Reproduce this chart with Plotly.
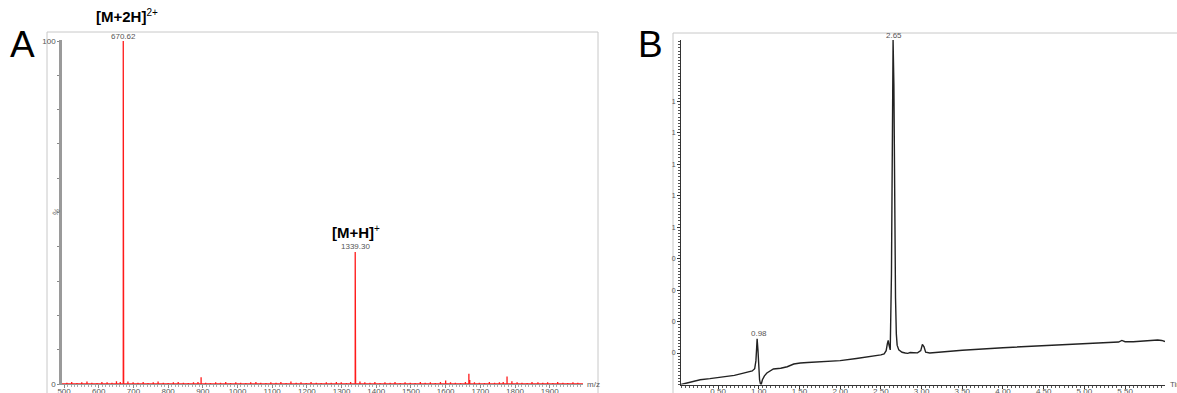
import plotly.graph_objects as go

W, H = 1177, 393

# ---------------- Panel A: mass spectrum ----------------
peak_mz = [670.62, 671.8, 895.0, 1339.30, 1340.4, 1600.0, 1667.0, 1669.5, 1777.0, 1791.0, 1866.0]
peak_int = [100.0, 3.0, 2.0, 38.5, 3.5, 1.0, 3.0, 1.2, 2.2, 0.8, 0.5]
noise_mz = [508, 522, 537, 551, 566, 580, 595, 609, 624, 638, 651, 662, 684, 699, 713, 728, 742,
            757, 771, 786, 800, 815, 829, 844, 858, 873, 886, 908, 922, 937, 951, 966, 980, 995,
            1009, 1024, 1038, 1053, 1067, 1082, 1096, 1111, 1125, 1140, 1154, 1169, 1183, 1198,
            1212, 1227, 1241, 1256, 1270, 1285, 1299, 1314, 1326, 1353, 1367, 1382, 1396, 1411,
            1425, 1440, 1454, 1469, 1483, 1498, 1512, 1527, 1541, 1556, 1570, 1585, 1614, 1628,
            1643, 1657, 1683, 1697, 1712, 1726, 1741, 1755, 1766, 1806, 1820, 1835, 1849, 1880,
            1894, 1909, 1923, 1938, 1952, 1967, 1981]
noise_int = [0.4, 0.6, 0.3, 0.5, 0.7, 0.4, 0.3, 0.6, 0.5, 0.4, 0.8, 0.6, 0.7, 0.5, 0.4, 0.6, 0.3,
             0.5, 0.7, 0.4, 0.3, 0.5, 0.6, 0.4, 0.3, 0.5, 0.6, 0.4, 0.3, 0.5, 0.4, 0.6, 0.3, 0.5,
             0.4, 0.3, 0.5, 0.6, 0.4, 0.3, 0.5, 0.4, 0.6, 0.3, 0.7, 0.4, 0.5, 0.3,
             0.6, 0.4, 0.3, 0.5, 0.4, 0.6, 0.5, 0.3, 0.6, 0.7, 0.5, 0.4, 0.6, 0.3,
             0.5, 0.4, 0.6, 0.3, 0.5, 0.4, 0.3, 0.6, 0.4, 0.5, 0.3, 0.6, 0.5, 0.4,
             0.3, 0.6, 0.5, 0.4, 0.3, 0.6, 0.4, 0.5, 0.6, 0.5, 0.4, 0.3, 0.6, 0.4,
             0.5, 0.3, 0.6, 0.4, 0.3, 0.5, 0.4]
mz_range = [494, 1996]
mz_ticks = [500, 600, 700, 800, 900, 1000, 1100, 1200, 1300, 1400, 1500, 1600, 1700, 1800, 1900]

# ---------------- Panel B: chromatogram ----------------
time_min = [0.045, 0.10, 0.20, 0.28, 0.40, 0.50, 0.60, 0.70, 0.80, 0.85, 0.92, 0.95, 0.965, 0.975,
            0.98, 0.99, 1.00, 1.01, 1.02, 1.03, 1.045, 1.07, 1.10, 1.14, 1.18, 1.27, 1.35, 1.43,
            1.51, 1.60, 1.76, 2.00, 2.20, 2.40, 2.50, 2.54, 2.565, 2.58, 2.59, 2.60, 2.615,
            2.63, 2.64, 2.65, 2.66, 2.67, 2.68, 2.69, 2.70, 2.72, 2.76, 2.80, 2.83, 2.86, 2.90,
            2.95, 2.99, 3.01, 3.03, 3.05, 3.10, 3.50, 4.00, 4.50, 5.00, 5.30, 5.42, 5.46,
            5.50, 5.60, 5.75, 5.90, 5.95, 5.99]
signal = [0.00, 0.008, 0.018, 0.030, 0.037, 0.043, 0.050, 0.058, 0.071, 0.077, 0.086, 0.10, 0.15,
          0.24, 0.29, 0.22, 0.10, 0.03, 0.005, 0.0, 0.03, 0.055, 0.073, 0.088, 0.099, 0.103,
          0.113, 0.130, 0.137, 0.140, 0.143, 0.152, 0.165, 0.178, 0.188, 0.195, 0.215, 0.26,
          0.28, 0.25, 0.22, 0.70, 1.60, 2.19, 1.90, 1.10, 0.55, 0.32, 0.25, 0.22, 0.205, 0.20,
          0.198, 0.203, 0.200, 0.201, 0.215, 0.255, 0.24, 0.205, 0.200, 0.218, 0.234, 0.247,
          0.260, 0.266, 0.270, 0.280, 0.272, 0.272, 0.278, 0.283, 0.280, 0.273]
t_range = [0.045, 5.99]
t_ticks = [0.5, 1.0, 1.5, 2.0, 2.5, 3.0, 3.5, 4.0, 4.5, 5.0, 5.5]
sig_ticks = [0.2, 0.4, 0.6, 0.8, 1.0, 1.2, 1.4, 1.6, 1.8]
sig_labels = ["0", "0", "0", "0", "1", "1", "1", "1", "1"]

# Build stick spectrum as one continuous red line
xs, ys = [mz_range[0]], [0]
sticks = sorted(list(zip(peak_mz, peak_int)) + list(zip(noise_mz, noise_int)))
for m, v in sticks:
    xs += [m, m, m]
    ys += [0, v, 0]
xs.append(mz_range[1])
ys.append(0)

def px(xp):
    return xp / W

def py(yp):
    return (H - yp) / H

fig = go.Figure()
fig.add_trace(go.Scatter(x=xs, y=ys, mode="lines", line=dict(color="#ff1a1a", width=1.3),
                         xaxis="x", yaxis="y", hoverinfo="skip", showlegend=False))
fig.add_trace(go.Scatter(x=time_min, y=signal, mode="lines", line=dict(color="#222222", width=1.4),
                         xaxis="x2", yaxis="y2", hoverinfo="skip", showlegend=False))

tickfont = dict(family="Liberation Sans, Arial", size=8, color="#555555")

fig.update_layout(
    width=W, height=H, autosize=False,
    margin=dict(l=0, r=0, t=0, b=0, pad=0),
    paper_bgcolor="white", plot_bgcolor="white",
    showlegend=False,
    xaxis=dict(domain=[px(62), px(583)], range=mz_range, tickvals=mz_ticks, automargin=False,
               ticktext=[str(v) for v in mz_ticks], showgrid=False, zeroline=False,
               showline=True, linecolor="#999999", linewidth=1, ticks="outside", ticklen=3,
               tickcolor="#888888", tickfont=tickfont, anchor="y", ticklabelstandoff=-4,
               minor=dict(dtick=10, ticks="outside", ticklen=2, tickcolor="#aaaaaa")),
    yaxis=dict(domain=[py(384), py(40)], range=[0, 100.3], tickvals=[0, 100], automargin=False,
               ticktext=["0", "100"], showgrid=False, zeroline=False, showline=True,
               linecolor="#9a9a9a", linewidth=2.5, ticks="outside", ticklen=2,
               tickcolor="#888888", tickfont=tickfont, anchor="x",
               minor=dict(dtick=10, ticks="outside", ticklen=2, tickcolor="#888888")),
    xaxis2=dict(domain=[px(681), px(1165)], range=t_range, tickvals=t_ticks, automargin=False,
                ticktext=["%.2f" % v for v in t_ticks], showgrid=False, zeroline=False,
                showline=True, linecolor="#333333", linewidth=1, ticks="outside", ticklen=3,
                tickcolor="#333333", tickfont=tickfont, anchor="y2", ticklabelstandoff=-4,
                minor=dict(dtick=0.05, ticks="outside", ticklen=2, tickcolor="#555555")),
    yaxis2=dict(domain=[py(384.5), py(40)], range=[0, 2.19], tickvals=sig_ticks, automargin=False,
                ticktext=sig_labels, showgrid=False, zeroline=False, showline=True,
                linecolor="#333333", linewidth=1, ticks="outside", ticklen=3,
                tickcolor="#333333", tickfont=dict(family="Liberation Sans, Arial", size=7, color="#555555"),
                anchor="x2",
                minor=dict(dtick=0.02, ticks="outside", ticklen=2, tickcolor="#555555")),
)

# frames
fig.add_shape(type="rect", xref="paper", yref="paper", x0=px(47), x1=px(598), y0=-0.05, y1=py(32),
              line=dict(color="#c8c8c8", width=1), layer="below")
fig.add_shape(type="rect", xref="paper", yref="paper", x0=px(673), x1=1.05, y0=-0.05, y1=py(33),
              line=dict(color="#c8c8c8", width=1), layer="below")

lab = dict(family="Liberation Sans, Arial", size=8, color="#555555")
big = dict(family="Liberation Sans, Arial", size=37, color="black")
ion = dict(family="Liberation Sans, Arial", size=15, color="black")

ann = [
    dict(x=px(8), y=py(44), xref="paper", yref="paper", text="A", showarrow=False,
         font=big, xanchor="left", yanchor="middle"),
    dict(x=px(636), y=py(44), xref="paper", yref="paper", text="B", showarrow=False,
         font=big, xanchor="left", yanchor="middle"),
    dict(x=peak_mz[0], y=peak_int[0], xref="x", yref="y", text="%.2f" % peak_mz[0],
         showarrow=False, font=lab, yanchor="bottom", yshift=-2),
    dict(x=peak_mz[3], y=peak_int[3], xref="x", yref="y", text="%.2f" % peak_mz[3],
         showarrow=False, font=lab, yanchor="bottom", yshift=-1),
    dict(x=peak_mz[0], y=peak_int[0], xref="x", yref="y",
         text="<b>[M+2H]</b><sup><span style='font-size:10px'>2+</span></sup>",
         showarrow=False, font=ion, yanchor="middle", yshift=25, xshift=4),
    dict(x=peak_mz[3], y=peak_int[3], xref="x", yref="y",
         text="<b>[M+H]</b><sup><span style='font-size:10px'>+</span></sup>",
         showarrow=False, font=ion, yanchor="middle", yshift=20, xshift=1),
    dict(x=0.98, y=0.29, xref="x2", yref="y2", text="0.98", showarrow=False, font=lab,
         yanchor="bottom", yshift=-1, xshift=2),
    dict(x=2.65, y=2.19, xref="x2", yref="y2", text="2.65", showarrow=False, font=lab,
         yanchor="bottom", yshift=-2, xshift=1),
    dict(x=px(585), y=py(384), xref="paper", yref="paper", text="m/z", showarrow=False,
         font=lab, xanchor="left", yanchor="middle"),
    dict(x=px(1168), y=py(384), xref="paper", yref="paper", text="Time", showarrow=False,
         font=lab, xanchor="left", yanchor="middle"),
    dict(x=px(57), y=py(212), xref="paper", yref="paper", text="%", showarrow=False,
         font=dict(family="Liberation Sans, Arial", size=8, color="#666666"), textangle=-60,
         xanchor="center", yanchor="middle"),
]
fig.update_layout(annotations=ann)

fig.write_html("out.html", config={"displayModeBar": False},
               post_script="document.body.style.margin='0';document.body.style.padding='0';")
